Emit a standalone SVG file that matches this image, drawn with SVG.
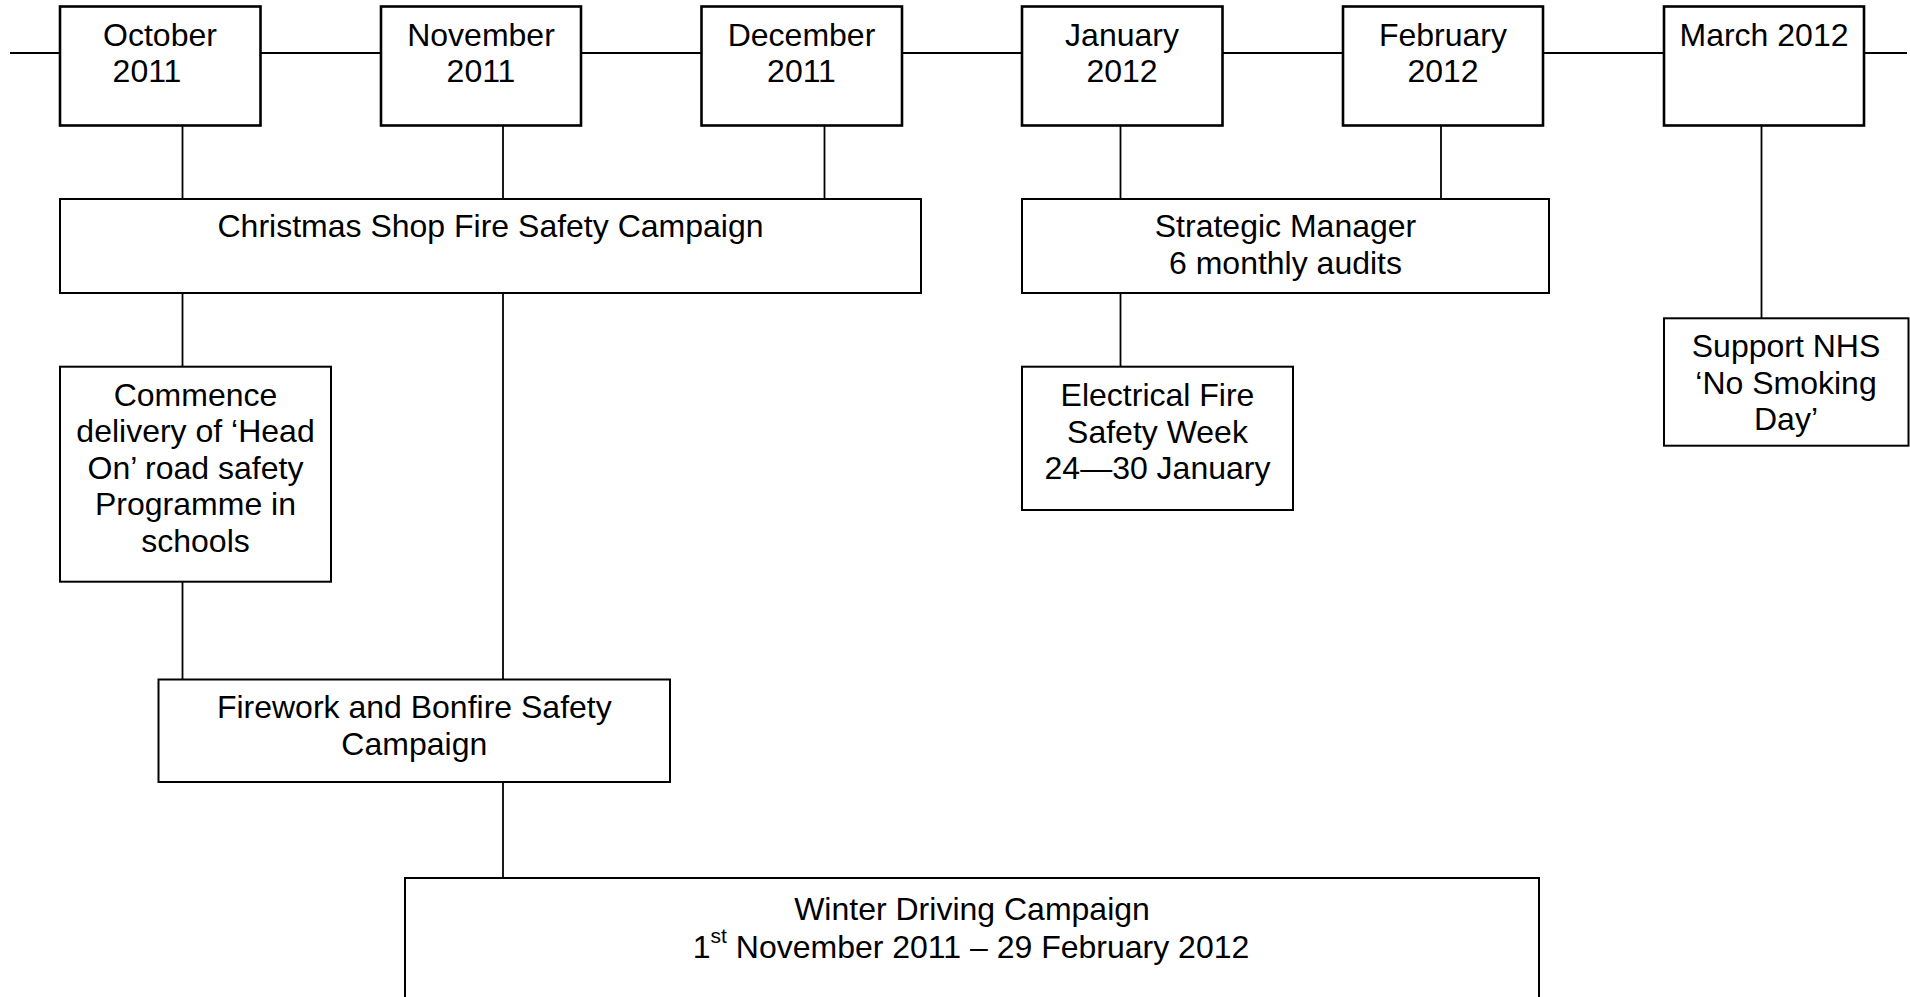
<svg xmlns="http://www.w3.org/2000/svg" width="1910" height="997" viewBox="0 0 1910 997">
<style>
  .month { fill: #fff; stroke: #000; stroke-width: 2.6; }
  .box { fill: #fff; stroke: #000; stroke-width: 2; }
  .conn line { stroke: #000; stroke-width: 1.8; }
  text { font-family: "Liberation Sans", Arial, sans-serif; font-size: 32px; fill: #000; text-anchor: middle; }
  .sup { font-size: 21px; }
</style>
<rect width="1910" height="997" fill="#fff"/>
<g id="connectors" class="conn">
  <line x1="10" y1="53" x2="60" y2="53"/>
  <line x1="260.5" y1="53" x2="381" y2="53"/>
  <line x1="581" y1="53" x2="701.5" y2="53"/>
  <line x1="902" y1="53" x2="1022" y2="53"/>
  <line x1="1222.5" y1="53" x2="1343" y2="53"/>
  <line x1="1543" y1="53" x2="1664" y2="53"/>
  <line x1="1864" y1="53" x2="1907" y2="53"/>
  <line x1="182.5" y1="125.5" x2="182.5" y2="199"/>
  <line x1="182.5" y1="293" x2="182.5" y2="366.7"/>
  <line x1="182.5" y1="581.7" x2="182.5" y2="679.5"/>
  <line x1="503" y1="125.5" x2="503" y2="199"/>
  <line x1="503" y1="293" x2="503" y2="679.5"/>
  <line x1="503" y1="782" x2="503" y2="878"/>
  <line x1="824.5" y1="125.5" x2="824.5" y2="199"/>
  <line x1="1120.5" y1="125.5" x2="1120.5" y2="199"/>
  <line x1="1120.5" y1="293" x2="1120.5" y2="366.7"/>
  <line x1="1441" y1="125.5" x2="1441" y2="199"/>
  <line x1="1761.5" y1="125.5" x2="1761.5" y2="318.3"/>
</g>
<g id="oct2011">
  <rect class="month" x="60" y="6.5" width="200.5" height="119"/>
  <text x="160" y="46">October</text>
  <text x="147" y="82">2011</text>
</g>
<g id="nov2011">
  <rect class="month" x="381" y="6.5" width="200" height="119"/>
  <text x="481" y="46">November</text>
  <text x="481" y="82">2011</text>
</g>
<g id="dec2011">
  <rect class="month" x="701.5" y="6.5" width="200.5" height="119"/>
  <text x="801.5" y="46">December</text>
  <text x="801.5" y="82">2011</text>
</g>
<g id="jan2012">
  <rect class="month" x="1022" y="6.5" width="200.5" height="119"/>
  <text x="1122" y="46">January</text>
  <text x="1122" y="82">2012</text>
</g>
<g id="feb2012">
  <rect class="month" x="1343" y="6.5" width="200" height="119"/>
  <text x="1443" y="46">February</text>
  <text x="1443" y="82">2012</text>
</g>
<g id="mar2012">
  <rect class="month" x="1664" y="6.5" width="200" height="119"/>
  <text x="1764" y="46">March 2012</text>
</g>
<g id="christmas">
  <rect class="box" x="60" y="199" width="861" height="94"/>
  <text x="490.5" y="237">Christmas Shop Fire Safety Campaign</text>
</g>
<g id="strategic">
  <rect class="box" x="1022" y="199" width="527" height="94"/>
  <text x="1285.5" y="237">Strategic Manager</text>
  <text x="1285.5" y="273.5">6 monthly audits</text>
</g>
<g id="headon">
  <rect class="box" x="60" y="366.7" width="271" height="215"/>
  <text x="195.5" y="405.5">Commence</text>
  <text x="195.5" y="442">delivery of ‘Head</text>
  <text x="195.5" y="478.5">On’ road safety</text>
  <text x="195.5" y="515">Programme in</text>
  <text x="195.5" y="551.5">schools</text>
</g>
<g id="electrical">
  <rect class="box" x="1022" y="366.7" width="271" height="143.3"/>
  <text x="1157.5" y="406">Electrical Fire</text>
  <text x="1157.5" y="442.5">Safety Week</text>
  <text x="1157.5" y="479">24—30 January</text>
</g>
<g id="nosmoking">
  <rect class="box" x="1664" y="318.3" width="244.5" height="127.4"/>
  <text x="1786" y="357">Support NHS</text>
  <text x="1786" y="393.5">‘No Smoking</text>
  <text x="1786" y="430">Day’</text>
</g>
<g id="firework">
  <rect class="box" x="158.5" y="679.5" width="511.5" height="102.5"/>
  <text x="414.3" y="718.3">Firework and Bonfire Safety</text>
  <text x="414.3" y="755">Campaign</text>
</g>
<g id="winter">
  <rect class="box" x="405" y="878" width="1134" height="140"/>
  <text x="972" y="920">Winter Driving Campaign</text>
  <text x="971" y="958">1<tspan class="sup" dy="-15">st</tspan><tspan dy="15"> November 2011 – 29 February 2012</tspan></text>
</g>
</svg>
